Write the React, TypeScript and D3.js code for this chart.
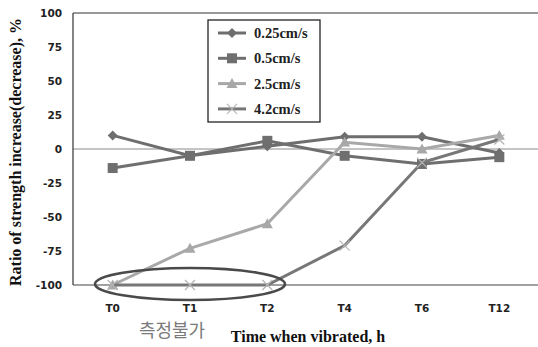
import React from "react";
import * as d3 from "d3";

const categories = ["T0", "T1", "T2", "T4", "T6", "T12"];
const s025 = [10, -5, 2, 9, 9, -3];
const s05 = [-14, -5, 6, -5, -11, -6];
const s25 = [-100, -73, -55, 5, 0, 10];
const s42 = [-100, -100, -100, -71, -10, 7];
const yTicks = [100, 75, 50, 25, 0, -25, -50, -75, -100];
const seriesNames = ["0.25cm/s", "0.5cm/s", "2.5cm/s", "4.2cm/s"];

const W = 538, H = 347;
const L = 73, T = 13, B = 285;

const x = d3.scalePoint<string>().domain(categories).range([74, 538]).padding(0.5);
const y = d3.scaleLinear().domain([-100, 100]).range([B, T]);

type Series = { name: string; values: number[]; color: string; marker: string };
const series: Series[] = [
  { name: seriesNames[0], values: s025, color: "#6e6e6e", marker: "diamond" },
  { name: seriesNames[1], values: s05, color: "#6f6f6f", marker: "square" },
  { name: seriesNames[2], values: s25, color: "#a8a8a8", marker: "triangle" },
  { name: seriesNames[3], values: s42, color: "#777777", marker: "x" },
];

function Marker({ kind, cx, cy, color }: { kind: string; cx: number; cy: number; color: string }) {
  if (kind === "diamond") {
    const r = 5;
    return <path d={`M${cx},${cy - r}L${cx + r},${cy}L${cx},${cy + r}L${cx - r},${cy}Z`} fill={color} />;
  }
  if (kind === "square") {
    const r = 5;
    return <rect x={cx - r} y={cy - r} width={2 * r} height={2 * r} fill={color} />;
  }
  if (kind === "triangle") {
    const r = 5.5;
    return <path d={`M${cx},${cy - r}L${cx + r},${cy + r * 0.8}L${cx - r},${cy + r * 0.8}Z`} fill={color} />;
  }
  const r = 5;
  return (
    <path
      d={`M${cx - r},${cy - r}L${cx + r},${cy + r}M${cx + r},${cy - r}L${cx - r},${cy + r}`}
      stroke="#b5b5b5"
      strokeWidth={1.2}
      fill="none"
    />
  );
}

export default function App() {
  const line = d3
    .line<number>()
    .x((_, i) => x(categories[i]) as number)
    .y((v) => y(v));

  return (
    <svg width={W} height={H} style={{ position: "absolute", left: 0, top: 0, background: "#fff" }}>
      <rect x={0} y={0} width={W} height={H} fill="#fff" />
      {/* zero line */}
      <line x1={L} x2={W} y1={y(0)} y2={y(0)} stroke="#8a8a8a" strokeWidth={1} />
      {/* plot border */}
      <line x1={L} x2={W} y1={T} y2={T} stroke="#333" strokeWidth={1.2} />
      <line x1={L} x2={L} y1={T} y2={B} stroke="#333" strokeWidth={1.2} />
      <line x1={L} x2={W} y1={B} y2={B} stroke="#444" strokeWidth={1.2} />
      {/* y tick labels */}
      {yTicks.map((t) => (
        <text
          key={t}
          x={62}
          y={y(t) + 4}
          textAnchor="end"
          fontFamily="DejaVu Sans"
          fontWeight="bold"
          fontSize={10.5}
          fill="#222"
        >
          {t}
        </text>
      ))}
      {/* x tick labels */}
      {categories.map((c) => (
        <text
          key={c}
          x={x(c) as number}
          y={312}
          textAnchor="middle"
          fontFamily="DejaVu Sans"
          fontWeight="bold"
          fontSize={10.5}
          fill="#222"
        >
          {c}
        </text>
      ))}
      {/* series */}
      {series.map((s) => (
        <g key={s.name}>
          <path d={line(s.values) || ""} fill="none" stroke={s.color} strokeWidth={3} />
          {s.values.map((v, i) => (
            <Marker key={i} kind={s.marker} cx={x(categories[i]) as number} cy={y(v)} color={s.color} />
          ))}
        </g>
      ))}
      {/* ellipse */}
      <ellipse cx={190} cy={284} rx={95} ry={16} fill="none" stroke="#4a4a4a" strokeWidth={2.6} />
      {/* legend */}
      <rect x={208} y={20} width={112} height={102} fill="#fff" stroke="#111" strokeWidth={1.2} />
      {series.map((s, i) => {
        const ly = 33 + i * 25.3;
        return (
          <g key={s.name}>
            <line x1={218} x2={246} y1={ly} y2={ly} stroke={s.color} strokeWidth={3} />
            <Marker kind={s.marker} cx={232} cy={ly} color={s.color} />
            <text
              x={254}
              y={ly + 5}
              fontFamily="Liberation Serif"
              fontWeight="bold"
              fontSize={14.5}
              fill="#222"
            >
              {s.name}
            </text>
          </g>
        );
      })}
      {/* axis titles */}
      <text
        transform={`translate(21,152) rotate(-90)`}
        textAnchor="middle"
        fontFamily="Liberation Serif"
        fontWeight="bold"
        fontSize={16}
        fill="#111"
      >
        Ratio of strength increase(decrease), %
      </text>
      <text
        x={308}
        y={342}
        textAnchor="middle"
        fontFamily="Liberation Serif"
        fontWeight="bold"
        fontSize={16}
        fill="#111"
      >
        Time when vibrated, h
      </text>
      <text
        x={172}
        y={337}
        textAnchor="middle"
        fontFamily="Noto Sans CJK KR"
        fontSize={18}
        fill="#7a7a7a"
      >
        측정불가
      </text>
    </svg>
  );
}
